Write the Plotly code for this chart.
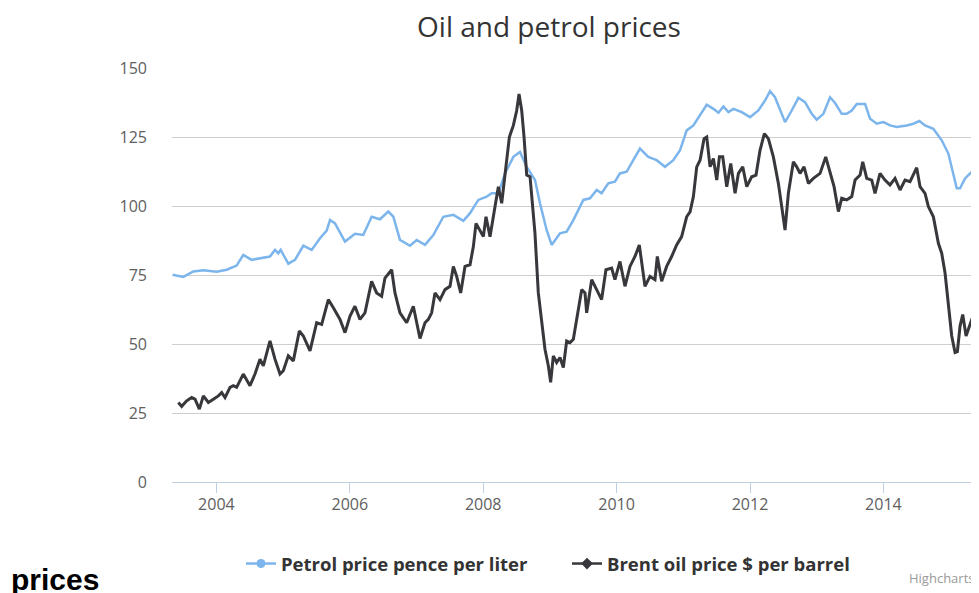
import plotly.graph_objects as go

# ---- data (decimal years, values) ----
petrol_t = [2003.344, 2003.504, 2003.654, 2003.804, 2004.004, 2004.154, 2004.303, 2004.403, 2004.528,
            2004.653, 2004.803, 2004.878, 2004.928, 2004.963, 2005.078, 2005.178, 2005.303, 2005.428,
            2005.553, 2005.653, 2005.703, 2005.778, 2005.928, 2006.077, 2006.202, 2006.327, 2006.452,
            2006.577, 2006.652, 2006.752, 2006.902, 2007.002, 2007.127, 2007.252, 2007.402, 2007.552,
            2007.702, 2007.802, 2007.927, 2008.052, 2008.127, 2008.227, 2008.327, 2008.452, 2008.551,
            2008.651, 2008.776, 2008.851, 2008.951, 2009.026, 2009.151, 2009.251, 2009.351, 2009.501,
            2009.601, 2009.701, 2009.775, 2009.875, 2009.975, 2010.050, 2010.150, 2010.250, 2010.350,
            2010.475, 2010.600, 2010.725, 2010.850, 2010.951, 2011.051, 2011.151, 2011.251, 2011.351,
            2011.451, 2011.526, 2011.601, 2011.676, 2011.751, 2011.876, 2012.000, 2012.125, 2012.225,
            2012.300, 2012.375, 2012.450, 2012.525, 2012.625, 2012.725, 2012.825, 2012.925, 2013.000,
            2013.100, 2013.200, 2013.275, 2013.375, 2013.450, 2013.525, 2013.600, 2013.725, 2013.800,
            2013.900, 2014.000, 2014.100, 2014.200, 2014.350, 2014.449, 2014.539, 2014.624, 2014.749,
            2014.874, 2014.974, 2015.049, 2015.099, 2015.149, 2015.224, 2015.324]
petrol_v = [75.1, 74.3, 76.3, 76.7, 76.2, 76.9, 78.4, 82.3, 80.5,
            81.1, 81.7, 84.1, 82.9, 84.1, 79.1, 80.5, 85.6, 84.1,
            88.3, 91.1, 94.9, 93.7, 87.1, 89.9, 89.5, 96.1, 95.2,
            98.0, 96.1, 87.7, 85.6, 87.7, 85.9, 89.5, 96.1, 96.8,
            94.6, 97.4, 102.2, 103.4, 104.6, 104.6, 111.8, 117.8, 119.6,
            114.2, 109.4, 101.0, 91.3, 85.9, 90.1, 90.7, 94.9, 102.2,
            102.8, 105.8, 104.6, 108.2, 108.8, 111.8, 112.4, 116.6, 120.8,
            117.8, 116.6, 114.2, 116.6, 120.2, 127.4, 129.2, 132.8, 136.7,
            135.2, 133.8, 136.1, 134.0, 135.2, 134.0, 132.2, 134.6, 138.2,
            141.6, 139.4, 134.6, 130.4, 134.6, 139.2, 137.6, 133.4, 131.3,
            133.4, 139.4, 137.3, 133.4, 133.4, 134.6, 137.0, 137.0, 131.6,
            129.8, 130.4, 129.2, 128.6, 129.2, 129.8, 130.8, 129.2, 128.0,
            123.8, 119.0, 111.8, 106.4, 106.4, 110.0, 112.4]

brent_t = [2003.429, 2003.479, 2003.554, 2003.629, 2003.679, 2003.744, 2003.804, 2003.879, 2003.954,
           2004.029, 2004.079, 2004.129, 2004.204, 2004.254, 2004.303, 2004.403, 2004.503, 2004.578,
           2004.653, 2004.703, 2004.803, 2004.878, 2004.953, 2005.003, 2005.078, 2005.153, 2005.243,
           2005.303, 2005.403, 2005.503, 2005.578, 2005.678, 2005.753, 2005.853, 2005.928, 2006.003,
           2006.077, 2006.152, 2006.227, 2006.327, 2006.402, 2006.477, 2006.527, 2006.627, 2006.677,
           2006.752, 2006.852, 2006.952, 2007.052, 2007.127, 2007.177, 2007.227, 2007.277, 2007.352,
           2007.427, 2007.502, 2007.552, 2007.602, 2007.662, 2007.727, 2007.802, 2007.852, 2007.892,
           2007.952, 2008.002, 2008.042, 2008.102, 2008.177, 2008.227, 2008.277, 2008.342, 2008.392,
           2008.452, 2008.502, 2008.537, 2008.577, 2008.612, 2008.652, 2008.702, 2008.752, 2008.776,
           2008.826, 2008.876, 2008.926, 2008.976, 2009.011, 2009.051, 2009.101, 2009.151, 2009.201,
           2009.251, 2009.301, 2009.351, 2009.401, 2009.476, 2009.526, 2009.551, 2009.626, 2009.701,
           2009.775, 2009.840, 2009.925, 2009.975, 2010.050, 2010.125, 2010.200, 2010.275, 2010.340,
           2010.425, 2010.500, 2010.575, 2010.610, 2010.675, 2010.750, 2010.825, 2010.900, 2010.975,
           2011.050, 2011.101, 2011.151, 2011.201, 2011.251, 2011.311, 2011.351, 2011.401, 2011.451,
           2011.501, 2011.541, 2011.591, 2011.651, 2011.711, 2011.776, 2011.826, 2011.891, 2011.951,
           2012.025, 2012.090, 2012.150, 2012.215, 2012.275, 2012.350, 2012.425, 2012.475, 2012.525,
           2012.575, 2012.650, 2012.700, 2012.750, 2012.810, 2012.875, 2012.950, 2013.050, 2013.135,
           2013.200, 2013.260, 2013.325, 2013.375, 2013.450, 2013.525, 2013.575, 2013.650, 2013.690,
           2013.750, 2013.825, 2013.874, 2013.949, 2014.024, 2014.099, 2014.174, 2014.249, 2014.324,
           2014.399, 2014.449, 2014.499, 2014.549, 2014.624, 2014.674, 2014.749, 2014.824, 2014.874,
           2014.924, 2014.974, 2015.024, 2015.074, 2015.109, 2015.149, 2015.189, 2015.239, 2015.289,
           2015.334]
brent_v = [28.8, 27.4, 29.4, 30.6, 30.0, 26.4, 31.2, 28.8, 30.0,
           31.2, 32.4, 30.6, 34.3, 34.9, 34.3, 39.1, 34.9, 39.1,
           44.5, 42.1, 51.1, 44.5, 39.1, 40.3, 45.7, 43.9, 54.7,
           52.9, 47.5, 57.7, 57.1, 66.1, 63.1, 58.9, 54.1, 60.1,
           63.7, 58.9, 61.3, 72.7, 68.5, 67.3, 73.9, 76.9, 68.5,
           61.3, 57.7, 63.7, 52.0, 57.7, 58.9, 61.3, 68.5, 66.1,
           69.7, 70.9, 78.1, 74.5, 68.5, 78.1, 78.7, 85.3, 93.7,
           91.3, 88.9, 96.1, 88.9, 99.8, 107.0, 101.0, 114.2, 125.0,
           129.2, 134.6, 140.6, 134.6, 125.0, 111.2, 110.6, 96.1, 90.1,
           68.5, 58.9, 48.1, 42.1, 36.1, 45.7, 43.3, 45.1, 41.5,
           51.1, 50.5, 51.7, 58.9, 69.7, 68.5, 61.3, 73.3, 69.7,
           66.1, 76.9, 77.5, 73.3, 79.9, 70.9, 78.1, 81.7, 85.9,
           70.9, 74.5, 73.3, 81.7, 72.7, 78.1, 81.7, 85.9, 88.9,
           96.1, 97.9, 103.4, 114.2, 116.6, 124.4, 125.0, 114.2, 117.2,
           109.4, 117.8, 117.8, 107.0, 115.4, 104.6, 111.8, 114.2, 107.0,
           110.6, 111.2, 120.2, 126.2, 124.4, 117.8, 108.2, 99.8, 91.3,
           104.6, 116.0, 114.2, 111.8, 114.2, 108.2, 110.0, 111.8, 117.8,
           111.8, 107.0, 98.0, 102.8, 102.2, 103.4, 109.4, 111.2, 116.0,
           110.0, 109.4, 104.6, 111.8, 109.4, 107.6, 110.0, 105.8, 109.4,
           108.8, 111.2, 113.9, 107.0, 104.6, 99.8, 96.1, 86.5, 82.9,
           75.7, 63.7, 52.9, 46.9, 47.2, 56.5, 60.7, 52.9, 56.5,
           59.5]

series_names = ["Petrol price pence per liter", "Brent oil price $ per barrel"]
x_tick_vals = [2004, 2006, 2008, 2010, 2012, 2014]
x_tick_text = ["2004", "2006", "2008", "2010", "2012", "2014"]
y_tick_vals = [0, 25, 50, 75, 100, 125, 150]

BLUE = "#7cb5ec"
DARK = "#38383c"
FONT = "Open Sans"

# the page body adds an 8px offset; positions below are in screen pixels minus that offset
OFF = 8
W, H = 979, 593
PL, PR, PT, PB = 172 - OFF, 979 - OFF, 68.3 - OFF, 482.3 - OFF  # plot area in figure px


def px_x(sx):
    return (sx - OFF - PL) / (PR - PL)


def px_y(sy):
    return (PB - (sy - OFF)) / (PB - PT)


fig = go.Figure()
fig.add_trace(go.Scatter(x=petrol_t, y=petrol_v, mode="lines", line=dict(color=BLUE, width=2.5),
                         name=series_names[0], showlegend=False))
fig.add_trace(go.Scatter(x=brent_t, y=brent_v, mode="lines", line=dict(color=DARK, width=3),
                         name=series_names[1], showlegend=False))
# legend entries (line + marker symbol, as in the reference legend)
fig.add_trace(go.Scatter(x=[None], y=[None], mode="lines+markers", name=series_names[0],
                         line=dict(color=BLUE, width=2.5), marker=dict(symbol="circle", size=9, color=BLUE)))
fig.add_trace(go.Scatter(x=[None], y=[None], mode="lines+markers", name=series_names[1],
                         line=dict(color=DARK, width=2.5), marker=dict(symbol="diamond", size=9, color=DARK)))

fig.update_layout(
    width=W, height=H,
    margin=dict(l=PL, r=W - PR, t=PT, b=H - PB),
    paper_bgcolor="white", plot_bgcolor="white",
    font=dict(family=FONT, color="#606060"),
    title=dict(text="Oil and petrol prices", xref="container", yref="container",
               x=(549 - OFF) / W, y=1 - (27 - OFF) / H, xanchor="center", yanchor="middle",
               font=dict(family=FONT, size=28, color="#333333")),
    legend=dict(orientation="h", xref="container", yref="container",
                x=(241 - OFF) / W, y=1 - (564 - OFF) / H, xanchor="left", yanchor="middle",
                font=dict(family=FONT, size=18.5, color="#333333", weight="bold"),
                itemwidth=30, entrywidth=281, bgcolor="rgba(0,0,0,0)"),
    xaxis=dict(range=[2003.334, 2015.433], tickvals=x_tick_vals, ticktext=x_tick_text,
               showgrid=False, zeroline=False, showline=True, linecolor="#c0d0e0", linewidth=1,
               ticks="outside", ticklen=10, tickcolor="#c0d0e0", tickwidth=1, ticklabelstandoff=-2,
               tickfont=dict(family=FONT, size=16, color="#606060")),
    yaxis=dict(range=[0, 150], tickvals=y_tick_vals, showgrid=True, gridcolor="#cfcfcf", gridwidth=1,
               zeroline=False, showline=False, ticks="", ticklabelstandoff=24,
               tickfont=dict(family=FONT, size=16, color="#606060")),
    annotations=[
        dict(text="Highcharts", xref="paper", yref="paper", x=px_x(976), y=px_y(578),
             xanchor="right", yanchor="middle", showarrow=False,
             font=dict(family=FONT, size=13, color="#999999")),
        dict(text="<b>prices</b>", xref="paper", yref="paper", x=px_x(9), y=px_y(580),
             xanchor="left", yanchor="middle", showarrow=False,
             font=dict(family="Liberation Sans", size=30, color="#000000")),
    ],
)

fig.write_html("out.html")
